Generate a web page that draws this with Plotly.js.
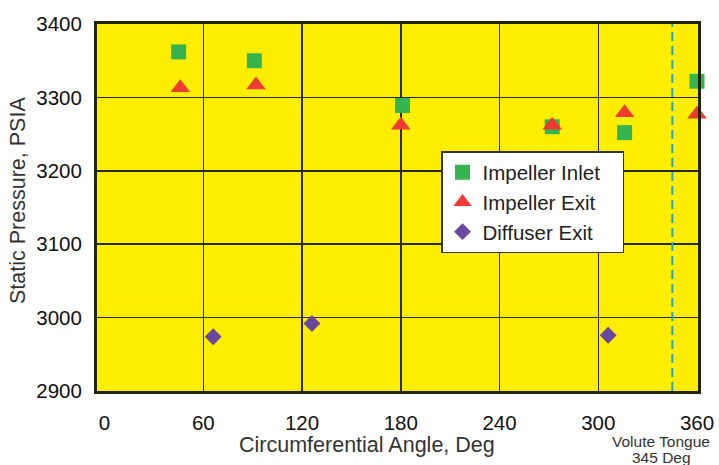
<!DOCTYPE html>
<html>
<head>
<meta charset="utf-8">
<script src="https://cdn.plot.ly/plotly-3.0.1.min.js"></script>
<style>html,body{margin:0;padding:0;background:#fff;}#chart{width:719px;height:465px;}</style>
</head>
<body>
<div id="chart"></div>
<script>
// Data
const inletAngle = [45, 91, 181, 272, 316, 360];
const inletPressure = [3362, 3350, 3289, 3260, 3252, 3322];
const exitAngle = [46, 92, 180, 272, 316, 360];
const exitPressure = [3313, 3317, 3262, 3262, 3279, 3277];
const diffuserAngle = [66, 126, 306];
const diffuserPressure = [2974, 2992, 2976];
const tongueAngle = 345;
const seriesNames = ['Impeller Inlet', 'Impeller Exit', 'Diffuser Exit'];
const xTickVals = [0, 60, 120, 180, 240, 300, 360];
const xGridVals = [60, 120, 180, 240, 300];
const yTickVals = [2900, 3000, 3100, 3200, 3300, 3400];

const FONT = 'Liberation Sans, Arial, sans-serif';
const PAD = '\u00a0\u00a0\u00a0';

const traces = [
  {x: inletAngle, y: inletPressure, type: 'scatter', mode: 'markers', name: seriesNames[0] + PAD,
   marker: {symbol: 'square', size: 15, color: '#35b44f'}, cliponaxis: false},
  {x: exitAngle, y: exitPressure, type: 'scatter', mode: 'markers', name: seriesNames[1],
   marker: {symbol: 'triangle-up', size: 17, color: '#ee3b34'}, cliponaxis: false},
  {x: diffuserAngle, y: diffuserPressure, type: 'scatter', mode: 'markers', name: seriesNames[2],
   marker: {symbol: 'diamond', size: 13, color: '#6a48a0'}, cliponaxis: false},
  {x: [tongueAngle], y: [3000], xaxis: 'x2', type: 'scatter', mode: 'markers', showlegend: false,
   hoverinfo: 'skip', marker: {opacity: 0}}
];

const layout = {
  width: 719, height: 465,
  margin: {l: 97, r: 21, t: 24, b: 74},
  paper_bgcolor: '#ffffff',
  plot_bgcolor: '#ffee00',
  font: {family: FONT, color: '#111'},
  showlegend: true,
  legend: {
    x: (441 - 97) / 601, y: (391 - 151) / 367, xanchor: 'left', yanchor: 'top',
    bgcolor: '#ffffff', bordercolor: '#333', borderwidth: 1.5,
    font: {family: FONT, size: 20.5, color: '#222'},
    tracegroupgap: 0
  },
  xaxis: {
    range: [-4.6, 360.6], tickvals: xGridVals, ticktext: xGridVals.map(String),
    showticklabels: false, showgrid: true, gridcolor: '#2a2a22', gridwidth: 1.5,
    zeroline: false, showline: true, mirror: true, linecolor: '#222211', linewidth: 3,
    ticks: ''
  },
  xaxis2: {
    overlaying: 'x', matches: 'x', side: 'bottom', anchor: 'y',
    range: [-4.6, 360.6], tickvals: xTickVals, ticktext: xTickVals.map(String),
    showgrid: false, zeroline: false, showline: false, ticks: '',
    ticklabelstandoff: 17,
    tickfont: {family: FONT, size: 20.5, color: '#111'}
  },
  yaxis: {
    range: [2900, 3400], tickvals: yTickVals, ticktext: yTickVals.map(String),
    showgrid: true, gridcolor: '#2a2a22', gridwidth: 1.5,
    zeroline: false, showline: true, mirror: true, linecolor: '#222211', linewidth: 3,
    ticks: '', ticklabelstandoff: 8,
    tickfont: {family: FONT, size: 20.5, color: '#111'}
  },
  shapes: [
    {type: 'line', xref: 'x', yref: 'paper', x0: tongueAngle, x1: tongueAngle, y0: 0, y1: 1,
     line: {color: '#1aa7e6', width: 2, dash: '9px,5px'}, layer: 'above'}
  ],
  annotations: [
    {text: 'Circumferential Angle, Deg', xref: 'paper', yref: 'paper',
     x: (367 - 97) / 601, y: -(445 - 391) / 367, xanchor: 'center', yanchor: 'middle',
     showarrow: false, font: {family: FONT, size: 21.5, color: '#333'}},
    {text: 'Static Pressure, PSIA', xref: 'paper', yref: 'paper', textangle: -90,
     x: (18 - 97) / 601, y: (391 - 201) / 367, xanchor: 'center', yanchor: 'middle',
     showarrow: false, font: {family: FONT, size: 21.5, color: '#333'}},
    {text: 'Volute Tongue', xref: 'paper', yref: 'paper',
     x: (661 - 97) / 601, y: -(441 - 391) / 367, xanchor: 'center', yanchor: 'middle',
     showarrow: false, font: {family: FONT, size: 15.5, color: '#333'}},
    {text: tongueAngle + ' Deg', xref: 'paper', yref: 'paper',
     x: (661 - 97) / 601, y: -(457 - 391) / 367, xanchor: 'center', yanchor: 'middle',
     showarrow: false, font: {family: FONT, size: 15.5, color: '#333'}}
  ]
};

Plotly.newPlot('chart', traces, layout, {displayModeBar: false, staticPlot: true});
</script>
</body>
</html>
